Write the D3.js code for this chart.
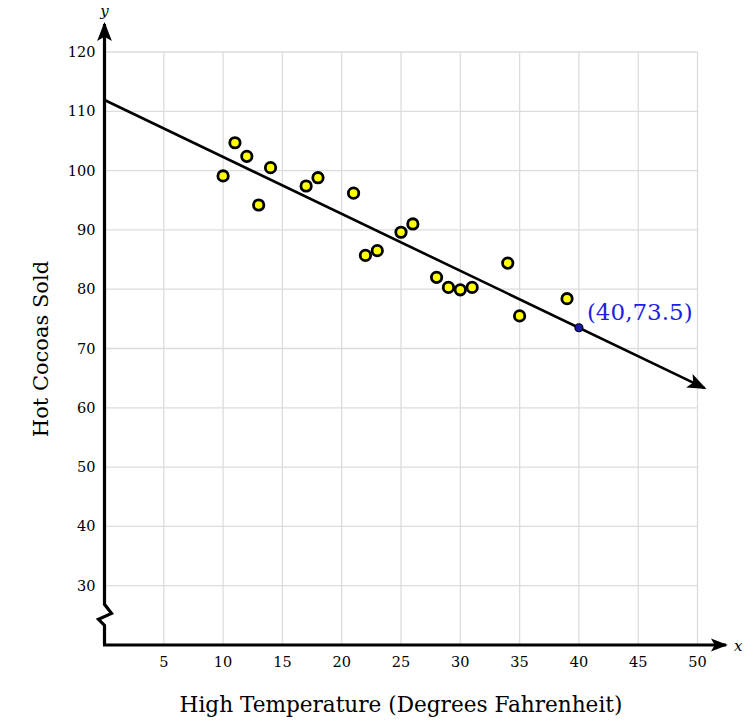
<!DOCTYPE html>
<html>
<head>
<meta charset="utf-8">
<script src="https://cdn.jsdelivr.net/npm/d3@7"></script>
<style>
  body { margin: 0; background: #fff; }
  text { font-family: "DejaVu Serif", "Liberation Serif", serif; }
</style>
</head>
<body>
<svg id="chart" width="753" height="723"></svg>
<script>
// data
var temps = [10, 11, 12, 13, 14, 17, 18, 21, 22, 23, 25, 26, 28, 29, 30, 31, 34, 35, 39];
var cocoas = [99.1, 104.7, 102.4, 94.2, 100.5, 97.4, 98.8, 96.2, 85.7, 86.5, 89.6, 91.0, 82.0, 80.3, 79.9, 80.3, 84.4, 75.5, 78.4];
var xTicks = [5, 10, 15, 20, 25, 30, 35, 40, 45, 50];
var yTicks = [30, 40, 50, 60, 70, 80, 90, 100, 110, 120];
var fitIntercept = 111.9;
var fitSlope = -0.96;
var marked = { x: 40, y: 73.5, label: '(40,73.5)' };

var svg = d3.select('#chart');
var x = d3.scaleLinear().domain([0, 50]).range([104.5, 697.5]);
var y = d3.scaleLinear().domain([20, 120]).range([645, 52]);

var defs = svg.append('defs');
function arrow(id, size) {
  defs.append('marker')
    .attr('id', id)
    .attr('viewBox', '0 -8 18 16')
    .attr('refX', 16).attr('refY', 0)
    .attr('markerUnits', 'userSpaceOnUse')
    .attr('markerWidth', size).attr('markerHeight', size)
    .attr('orient', 'auto')
    .append('path')
    .attr('d', 'M0,-7 L18,0 L0,7 L4,0 Z')
    .attr('fill', '#000');
}
arrow('arr', 19);
arrow('arrSmall', 17);

// grid
var grid = svg.append('g').attr('stroke', '#dcdcdc').attr('stroke-width', 1.3);
grid.selectAll('line.v').data(xTicks).enter().append('line')
  .attr('x1', function (d) { return x(d); }).attr('x2', function (d) { return x(d); })
  .attr('y1', y(20)).attr('y2', y(120));
grid.selectAll('line.h').data(yTicks).enter().append('line')
  .attr('x1', x(0)).attr('x2', x(50))
  .attr('y1', function (d) { return y(d); }).attr('y2', function (d) { return y(d); });

// tick labels
svg.append('g').selectAll('text').data(xTicks).enter().append('text')
  .attr('x', function (d) { return x(d); })
  .attr('y', y(20) + 22)
  .attr('text-anchor', 'middle')
  .attr('font-size', 14.5)
  .text(function (d) { return d; });
svg.append('g').selectAll('text').data(yTicks).enter().append('text')
  .attr('x', x(0) - 9)
  .attr('y', function (d) { return y(d) + 5; })
  .attr('text-anchor', 'end')
  .attr('font-size', 14.5)
  .text(function (d) { return d; });

// axes
var x0 = x(0), yb = y(25);
svg.append('path')
  .attr('d', 'M' + x0 + ',' + y(20) + ' L' + x0 + ',' + (yb + 10) +
    ' L' + (x0 - 6) + ',' + (yb + 4) + ' L' + (x0 + 7) + ',' + (yb - 2) +
    ' L' + x0 + ',' + (yb - 11) + ' L' + x0 + ',' + 24)
  .attr('fill', 'none').attr('stroke', '#000').attr('stroke-width', 3.2)
  .attr('marker-end', 'url(#arr)');
svg.append('line')
  .attr('x1', x0 - 1.5).attr('y1', y(20)).attr('x2', 726).attr('y2', y(20))
  .attr('stroke', '#000').attr('stroke-width', 3.2)
  .attr('marker-end', 'url(#arrSmall)');
svg.append('text').attr('x', x0).attr('y', 16).attr('text-anchor', 'middle')
  .attr('font-size', 15).attr('font-style', 'italic').text('y');
svg.append('text').attr('x', 734).attr('y', y(20) + 6)
  .attr('font-size', 15).attr('font-style', 'italic').text('x');

// fitted line
svg.append('line')
  .attr('x1', x(0)).attr('y1', y(fitIntercept))
  .attr('x2', x(50.6)).attr('y2', y(fitIntercept + fitSlope * 50.6))
  .attr('stroke', '#000').attr('stroke-width', 2.6)
  .attr('marker-end', 'url(#arr)');

// points
svg.append('g').selectAll('circle').data(temps).enter().append('circle')
  .attr('cx', function (d) { return x(d); })
  .attr('cy', function (d, i) { return y(cocoas[i]); })
  .attr('r', 5.2)
  .attr('fill', '#ffff00').attr('stroke', '#000').attr('stroke-width', 2.8);

svg.append('circle')
  .attr('cx', x(marked.x)).attr('cy', y(marked.y)).attr('r', 4)
  .attr('fill', '#1a1aa8').attr('stroke', '#000').attr('stroke-width', 1.2);
svg.append('text')
  .attr('x', x(marked.x) + 8).attr('y', y(marked.y) - 8)
  .attr('font-size', 23).attr('fill', '#1f1fe0')
  .text(marked.label);

// titles
svg.append('text')
  .attr('x', 401).attr('y', 712).attr('text-anchor', 'middle')
  .attr('font-size', 21.6)
  .text('High Temperature (Degrees Fahrenheit)');
svg.append('text')
  .attr('transform', 'translate(48,349) rotate(-90)')
  .attr('text-anchor', 'middle')
  .attr('font-size', 21)
  .text('Hot Cocoas Sold');
</script>
</body>
</html>
